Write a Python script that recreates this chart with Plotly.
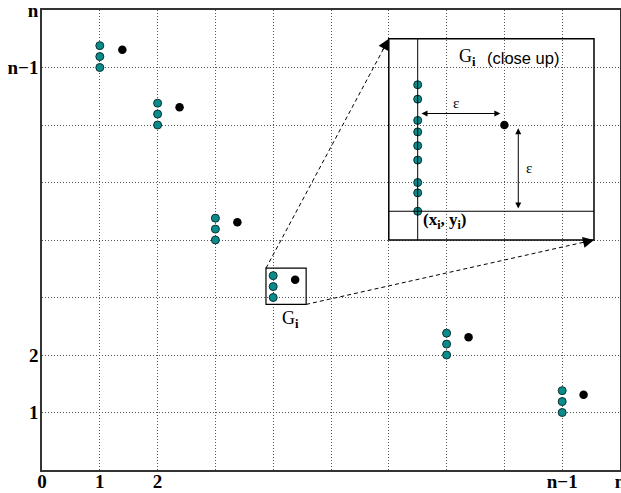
import plotly.graph_objects as go

# ---- data ----
x_tick_vals = [0, 1, 2, 3, 4, 5, 6, 7, 8, 9, 10]
x_tick_text = ["0", "1", "2", "", "", "", "", "", "", "n\u22121", "n"]
y_tick_vals = [0, 1, 2, 3, 4, 5, 6, 7, 8]
y_tick_text = ["", "1", "2", "", "", "", "", "n\u22121", "n"]

teal_x = [1, 1, 1, 2, 2, 2, 3, 3, 3, 4, 4, 4, 7, 7, 7, 9, 9, 9]
teal_y = [7.0, 7.19, 7.38, 6.0, 6.19, 6.38, 4.0, 4.19, 4.38,
          3.0, 3.19, 3.38, 2.0, 2.19, 2.38, 1.0, 1.19, 1.38]
black_x = [1.39, 2.38, 3.38, 4.38, 7.38, 9.37]
black_y = [7.31, 6.31, 4.31, 3.31, 2.31, 1.31]

inset_teal_x = [6.5, 6.5, 6.5, 6.5, 6.5, 6.5, 6.5, 6.5, 6.5]
inset_teal_y = [6.70, 6.45, 6.08, 5.88, 5.64, 5.39, 5.00, 4.82, 4.50]
inset_black_x = [8.0]
inset_black_y = [6.0]

TEAL = "#0a8c8c"
SERIF = "Liberation Serif"
SANS = "Liberation Sans"

fig = go.Figure()

fig.add_trace(go.Scatter(x=teal_x, y=teal_y, mode="markers",
                         marker=dict(size=8, color=TEAL, line=dict(width=1, color="#0b3030")),
                         showlegend=False, hoverinfo="skip"))
fig.add_trace(go.Scatter(x=black_x, y=black_y, mode="markers",
                         marker=dict(size=8.5, color="black"),
                         showlegend=False, hoverinfo="skip"))
fig.add_trace(go.Scatter(x=inset_teal_x, y=inset_teal_y, mode="markers",
                         marker=dict(size=8, color=TEAL, line=dict(width=1, color="#0b3030")),
                         showlegend=False, hoverinfo="skip"))
fig.add_trace(go.Scatter(x=inset_black_x, y=inset_black_y, mode="markers",
                         marker=dict(size=8.5, color="black"),
                         showlegend=False, hoverinfo="skip"))

shapes = [
    # inset frame and its inner lines
    dict(type="rect", x0=6.0, x1=9.55, y0=4.0, y1=7.5, line=dict(color="black", width=1.5)),
    dict(type="line", x0=6.5, x1=6.5, y0=4.0, y1=7.5, line=dict(color="black", width=1)),
    dict(type="line", x0=6.0, x1=9.55, y0=4.5, y1=4.5, line=dict(color="black", width=1)),
    # G_i box
    dict(type="rect", x0=3.875, x1=4.57, y0=2.88, y1=3.51, line=dict(color="black", width=1.2)),
    # dashed connectors
    dict(type="line", x0=3.875, y0=3.51, x1=5.97, y1=7.44, line=dict(color="black", width=1, dash="4px,3px")),
    dict(type="line", x0=4.57, y0=2.88, x1=9.5, y1=3.99, line=dict(color="black", width=1, dash="4px,3px")),
]

annotations = [
    # arrowheads of dashed connectors
    dict(x=6.0, y=7.5, ax=5.88, ay=7.28, xref="x", yref="y", axref="x", ayref="y",
         text="", showarrow=True, arrowhead=2, arrowsize=2.2, arrowwidth=1, arrowcolor="black"),
    dict(x=9.55, y=4.0, ax=9.33, ay=3.95, xref="x", yref="y", axref="x", ayref="y",
         text="", showarrow=True, arrowhead=2, arrowsize=2.2, arrowwidth=1, arrowcolor="black"),
    # epsilon arrows
    dict(x=7.93, y=6.2, ax=6.54, ay=6.2, xref="x", yref="y", axref="x", ayref="y",
         text="", showarrow=True, arrowhead=2, arrowside="end+start", arrowsize=1.2,
         arrowwidth=1, arrowcolor="black"),
    dict(x=8.24, y=4.55, ax=8.24, ay=5.97, xref="x", yref="y", axref="x", ayref="y",
         text="", showarrow=True, arrowhead=2, arrowside="end+start", arrowsize=1.2,
         arrowwidth=1, arrowcolor="black"),
    dict(x=7.17, y=6.39, text="\u03b5", showarrow=False, font=dict(family=SERIF, size=15, color="black")),
    dict(x=8.43, y=5.25, text="\u03b5", showarrow=False, font=dict(family=SERIF, size=15, color="black")),
    # labels
    dict(x=7.18, y=7.17, xanchor="left", yanchor="middle", text="G<sub><b>i</b></sub>", showarrow=False,
         font=dict(family=SERIF, size=18, color="black")),
    dict(x=7.67, y=7.17, xanchor="left", yanchor="middle", text="(close up)", showarrow=False,
         font=dict(family=SANS, size=16.5, color="black")),
    dict(x=4.12, y=2.62, xanchor="left", yanchor="middle", text="G<sub><b>i</b></sub>", showarrow=False,
         font=dict(family=SERIF, size=18, color="black")),
    dict(x=6.55, y=4.33, xanchor="left", yanchor="middle", text="<b>(x<sub>i</sub>, y<sub>i</sub>)</b>",
         showarrow=False, font=dict(family=SERIF, size=17, color="black")),
]

axis_common = dict(
    showgrid=True, gridcolor="#555", gridwidth=1, griddash="1px,2px",
    showline=True, linecolor="#333", linewidth=1.5, mirror=True,
    zeroline=False, ticks="", fixedrange=True,
    tickfont=dict(family=SERIF, size=19, color="black"),
    tickmode="array", automargin=False, ticklabeloverflow="allow",
)

fig.update_layout(
    width=621, height=493,
    margin=dict(l=42, r=1, t=10, b=23),
    plot_bgcolor="white", paper_bgcolor="white",
    shapes=shapes, annotations=annotations,
    xaxis=dict(range=[0, 10], tickvals=x_tick_vals, ticklabelstandoff=-7,
               ticktext=[f"<b>{t}</b>" if t else "" for t in x_tick_text], **axis_common),
    yaxis=dict(range=[0, 8], tickvals=y_tick_vals, ticklabelstandoff=-2,
               ticktext=[f"<b>{t}</b>" if t else "" for t in y_tick_text], **axis_common),
)

fig.write_html("out.html", config={"displayModeBar": False},
               post_script="document.body.style.margin='0px';document.body.style.overflow='hidden';")
